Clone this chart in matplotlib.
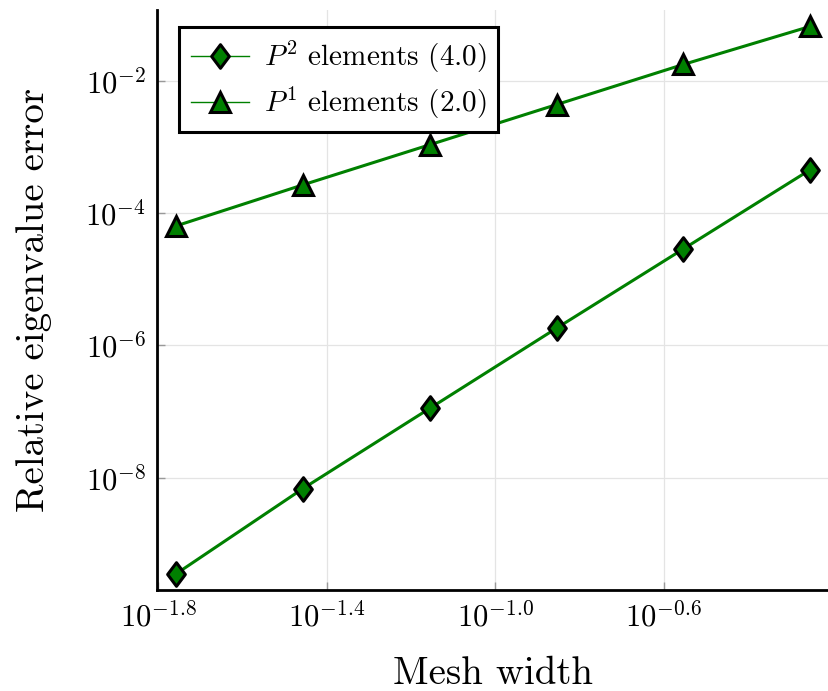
import matplotlib
matplotlib.use("Agg")
import matplotlib.pyplot as plt
from matplotlib.ticker import FixedLocator, FuncFormatter, NullLocator
from matplotlib.path import Path

plt.rcParams['font.family'] = 'cmr10'
plt.rcParams['mathtext.fontset'] = 'cm'
plt.rcParams['axes.formatter.use_mathtext'] = True

# mesh widths and relative eigenvalue errors
mesh_width = [0.01747, 0.03494, 0.06988, 0.1398, 0.2795, 0.559]
err_p2 = [3.5e-10, 6.8e-9, 1.11e-7, 1.81e-6, 2.85e-5, 4.49e-4]
err_p1 = [6.35e-5, 2.65e-4, 1.07e-3, 4.33e-3, 1.75e-2, 6.58e-2]

labels = [r'$P^2$ elements (4.0)', r'$P^1$ elements (2.0)']
xtick_exps = [-1.8, -1.4, -1.0, -0.6]
ytick_exps = [-8, -6, -4, -2]

green = '#008000'
diamond = Path([(0, 1), (0.75, 0), (0, -1), (-0.75, 0), (0, 1)],
               [Path.MOVETO, Path.LINETO, Path.LINETO, Path.LINETO, Path.CLOSEPOLY])

fig = plt.figure(figsize=(8.29, 6.91), dpi=100)
ax = fig.add_axes([157 / 829, 1 - 590 / 691, (829 - 157) / 829, (590 - 10) / 691])

ax.plot(mesh_width, err_p2, color=green, lw=2.2, marker=diamond, markersize=17,
        markerfacecolor=green, markeredgecolor='black', markeredgewidth=2.2,
        label=labels[0], zorder=3)
ax.plot(mesh_width, err_p1, color=green, lw=2.2, marker='^', markersize=15,
        markerfacecolor=green, markeredgecolor='black', markeredgewidth=2.2,
        label=labels[1], zorder=3)

ax.set_xscale('log')
ax.set_yscale('log')
ax.set_xlim(10 ** -1.803, 10 ** -0.208)
ax.set_ylim(10 ** -9.70, 10 ** -0.934)

ax.xaxis.set_major_locator(FixedLocator([10 ** e for e in xtick_exps]))
ax.xaxis.set_major_formatter(FuncFormatter(
    lambda v, p: r'$10^{%.1f}$' % xtick_exps[p] if p is not None else ''))
ax.xaxis.set_minor_locator(NullLocator())
ax.yaxis.set_major_locator(FixedLocator([10.0 ** e for e in ytick_exps]))
ax.yaxis.set_major_formatter(FuncFormatter(
    lambda v, p: r'$10^{%d}$' % ytick_exps[p] if p is not None else ''))
ax.yaxis.set_minor_locator(NullLocator())

ax.grid(True, color='#e4e4e4', lw=0.9)
ax.set_axisbelow(True)
for s in ['top', 'right']:
    ax.spines[s].set_visible(False)
for s in ['left', 'bottom']:
    ax.spines[s].set_linewidth(2.0)
ax.tick_params(direction='in', length=6, width=1, color='#999999',
               labelsize=22, pad=8)

ax.set_xlabel('Mesh width', fontsize=28, labelpad=17)
ax.set_ylabel('Relative eigenvalue error', fontsize=28, labelpad=24)

leg = ax.legend(loc='upper left', bbox_to_anchor=(0.033, 0.97), fontsize=21,
                frameon=True, fancybox=False, edgecolor='black', framealpha=1,
                handlelength=2.0, borderpad=0.4, labelspacing=0.32,
                handletextpad=0.5, borderaxespad=0)
leg.get_frame().set_linewidth(2.2)
for line in leg.get_lines():
    line.set_linewidth(1.0)

fig.savefig('out.png', dpi=100, facecolor='white')
